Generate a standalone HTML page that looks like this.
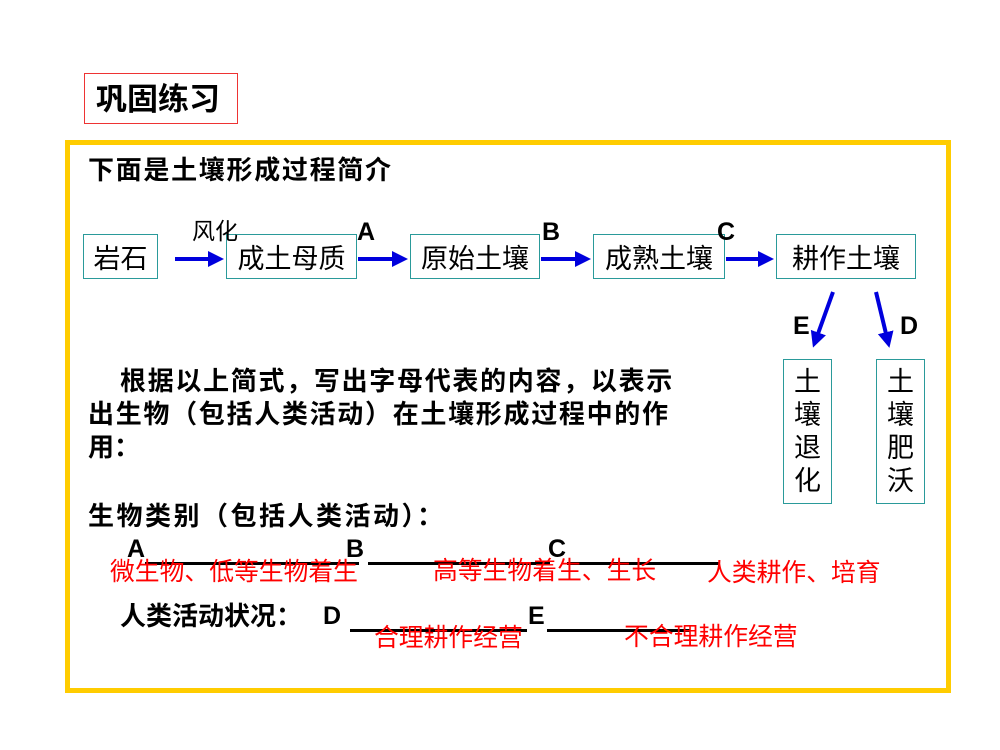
<!DOCTYPE html>
<html><head><meta charset="utf-8"><style>
body{margin:0;width:1000px;height:750px;background:#fff;position:relative;overflow:hidden;font-family:"Liberation Sans","Noto Sans CJK SC",sans-serif;}
.a{position:absolute;white-space:nowrap;line-height:1;}
.b{font-weight:bold;}
.box{position:absolute;border:1.5px solid #2a9a9a;box-sizing:border-box;font-size:27px;display:flex;align-items:center;justify-content:center;white-space:nowrap;}
.red{color:#ff0000;font-size:24.8px;}
.ln{position:absolute;height:3px;background:#000;}
.lt{font-family:"Liberation Sans",sans-serif;font-weight:bold;font-size:25px;}
</style></head><body>
<div style="position:absolute;left:84px;top:73px;width:154px;height:51px;border:1.5px solid #e33;box-sizing:border-box;"></div>
<div class="a b" style="left:96px;top:84px;font-size:31px;">巩固练习</div>
<div style="position:absolute;left:65px;top:140px;width:886px;height:553px;border:5px solid #ffcc00;box-sizing:border-box;"></div>
<div class="a b" style="left:88px;top:157px;font-size:26px;letter-spacing:1.7px;">下面是土壤形成过程简介</div>

<div class="box" style="left:83px;top:234px;width:75px;height:45px;">岩石</div>
<div class="box" style="left:226px;top:234px;width:131px;height:45px;">成土母质</div>
<div class="box" style="left:410px;top:234px;width:130px;height:45px;">原始土壤</div>
<div class="box" style="left:593px;top:234px;width:132px;height:45px;">成熟土壤</div>
<div class="box" style="left:776px;top:234px;width:140px;height:45px;">耕作土壤</div>
<div class="box" style="left:783px;top:359px;width:49px;height:145px;flex-direction:column;line-height:33px;">土<br>壤<br>退<br>化</div>
<div class="box" style="left:876px;top:359px;width:49px;height:145px;flex-direction:column;line-height:33px;">土<br>壤<br>肥<br>沃</div>

<svg style="position:absolute;left:0;top:0" width="1000" height="750">
<defs><marker id="m" markerWidth="4" markerHeight="4" refX="2.5" refY="2" orient="auto" markerUnits="strokeWidth"><path d="M0,0 L4,2 L0,4 z" fill="#0000dd"/></marker></defs>
<g stroke="#0000dd" stroke-width="4" marker-end="url(#m)">
<line x1="175" y1="259" x2="218" y2="259"/>
<line x1="358" y1="259" x2="402" y2="259"/>
<line x1="541" y1="259" x2="585" y2="259"/>
<line x1="726" y1="259" x2="768" y2="259"/>
<line x1="833" y1="292" x2="815" y2="342"/>
<line x1="876" y1="292" x2="888" y2="342"/>
</g></svg>

<div class="a" style="left:192px;top:220px;font-size:23px;">风化</div>
<div class="a lt" style="left:357px;top:220px;">A</div>
<div class="a lt" style="left:542px;top:220px;">B</div>
<div class="a lt" style="left:717px;top:220px;">C</div>
<div class="a lt" style="left:793px;top:314px;">E</div>
<div class="a lt" style="left:900px;top:314px;">D</div>

<div class="a b" style="left:120px;top:368px;font-size:26px;letter-spacing:1.7px;">根据以上简式，写出字母代表的内容，以表示</div>
<div class="a b" style="left:88px;top:401px;font-size:26px;letter-spacing:1.7px;">出生物（包括人类活动）在土壤形成过程中的作</div>
<div class="a b" style="left:88px;top:434px;font-size:26px;">用：</div>
<div class="a b" style="left:88px;top:503px;font-size:26px;letter-spacing:2.5px;">生物类别（包括人类活动）：</div>

<div class="a lt" style="left:127px;top:537px;">A</div>
<div class="ln" style="left:145px;top:562px;width:214px;"></div>
<div class="a lt" style="left:346px;top:537px;">B</div>
<div class="ln" style="left:368px;top:562px;width:182px;"></div>
<div class="a lt" style="left:548px;top:537px;">C</div>
<div class="ln" style="left:567px;top:562px;width:153px;"></div>
<div class="a red" style="left:110px;top:561px;">微生物、低等生物着生</div>
<div class="a red" style="left:433px;top:560px;">高等生物着生、生长</div>
<div class="a red" style="left:707px;top:562px;">人类耕作、培育</div>

<div class="a b" style="left:120px;top:603px;font-size:26px;">人类活动状况：</div>
<div class="a lt" style="left:323px;top:604px;">D</div>
<div class="ln" style="left:350px;top:629px;width:177px;"></div>
<div class="a lt" style="left:528px;top:604px;">E</div>
<div class="ln" style="left:547px;top:629px;width:143px;"></div>
<div class="a red" style="left:374px;top:627px;">合理耕作经营</div>
<div class="a red" style="left:624px;top:626px;">不合理耕作经营</div>
</body></html>
